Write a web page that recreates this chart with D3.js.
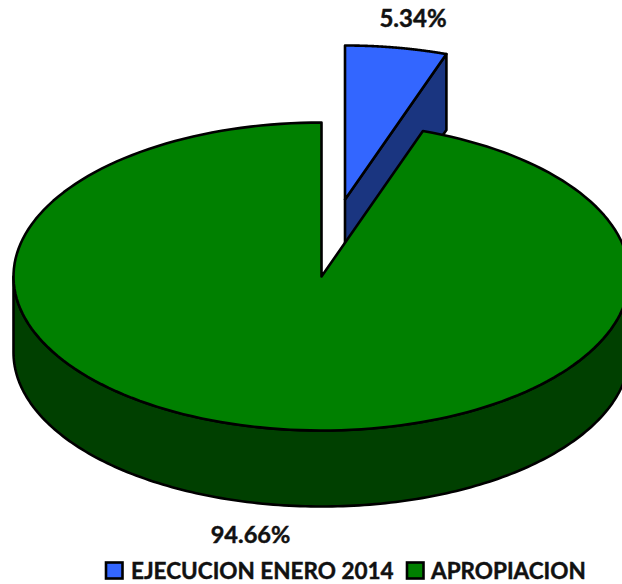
<!DOCTYPE html>
<html><head><meta charset="utf-8">
<script src="https://cdn.jsdelivr.net/npm/d3@7"></script>
<style>html,body{margin:0;padding:0;background:#fff;overflow:hidden}svg{display:block}text{font-family:Lato,sans-serif;font-weight:700;fill:#111;stroke:#111;stroke-width:.45px}</style>
</head><body><svg id="c" width="622" height="584"></svg>
<script>
const categories = ["EJECUCION ENERO 2014", "APROPIACION"];
const values = [5.34, 94.66];
const valueLabels = ["5.34%", "94.66%"];
const topColors = ["#3366ff", "#008000"];
const wallColors = ["#1a3580", "#004000"];

const W = 622, H = 584, cx = 321.5, cy = 276.5, rx = 308, ry = 154, depth = 76;
const explode = [[23.5, -77], [0, 0]];
const svg = d3.select("#c");
const X = d3.scaleLinear().domain([-1, 1]).range([cx - rx, cx + rx]);
const Y = d3.scaleLinear().domain([-1, 1]).range([cy - ry, cy + ry]);
const pie = d3.pie().sort(null).value(d => d);
const arcs = pie(values);
const line = d3.line();
const ptAt = (a, r = 1) => [X(r * Math.sin(a)), Y(-r * Math.cos(a))];
const arcPts = (a0, a1) => d3.range(0, 181).map(i => ptAt(a0 + (a1 - a0) * i / 180));
const stroke = {stroke: "#000", sw: 2.6};
function draw(pts, fill, off) {
  svg.append("path").attr("d", line(pts) + "Z")
    .attr("transform", `translate(${off[0]},${off[1]})`)
    .attr("fill", fill).attr("stroke", stroke.stroke)
    .attr("stroke-width", stroke.sw).attr("stroke-linejoin", "round");
}
function shift(pts, dy) { return pts.map(p => [p[0], p[1] + dy]); }

// exploded small slice
{
  const a = arcs[0], off = explode[0];
  const tip = ptAt(0, 0), end = ptAt(a.endAngle);
  draw([tip, end, [end[0], end[1] + depth], [tip[0], tip[1] + depth]], wallColors[0], off);
  draw([tip, ...arcPts(a.startAngle, a.endAngle)], topColors[0], off);
}
// large slice
{
  const a = arcs[1], off = explode[1];
  const front = arcPts(Math.PI / 2, 3 * Math.PI / 2);
  draw([...front, ...shift(front, depth).reverse()], wallColors[1], off);
  draw([ptAt(0, 0), ...arcPts(a.startAngle, a.endAngle)], topColors[1], off);
}
// value labels
svg.append("text").attr("x", 413).attr("y", 27).attr("text-anchor", "middle").attr("font-size", 24).text(valueLabels[0]);
svg.append("text").attr("x", 250.5).attr("y", 543).attr("text-anchor", "middle").attr("font-size", 23.6).text(valueLabels[1]);
// legend
const legX = [106, 407], legT = [131, 431];
categories.forEach((c, i) => {
  svg.append("rect").attr("x", legX[i]).attr("y", 562.5).attr("width", 16.5).attr("height", 16)
    .attr("fill", topColors[i]).attr("stroke", "#000").attr("stroke-width", 2.6);
  svg.append("text").attr("x", legT[i]).attr("y", 578.5).attr("font-size", 22.5).text(c);
});
</script></body></html>
